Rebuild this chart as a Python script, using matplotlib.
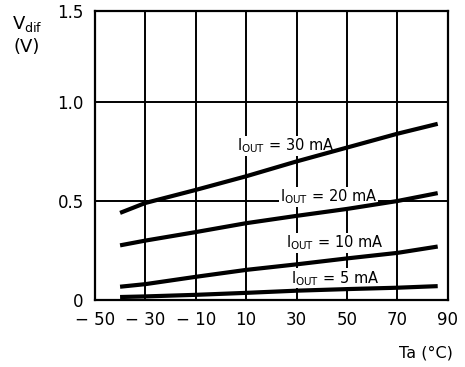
import numpy as np
import matplotlib
matplotlib.use("Agg")
import matplotlib.pyplot as plt

# values
ta = [-40, -30, -10, 10, 30, 50, 70, 86]
vdif_30 = [0.44, 0.49, 0.556, 0.625, 0.70, 0.77, 0.84, 0.89]
vdif_20 = [0.276, 0.30, 0.343, 0.388, 0.425, 0.46, 0.50, 0.54]
vdif_10 = [0.067, 0.08, 0.117, 0.152, 0.18, 0.21, 0.238, 0.27]
vdif_5 = [0.015, 0.018, 0.026, 0.036, 0.047, 0.055, 0.062, 0.07]

curves = [vdif_30, vdif_20, vdif_10, vdif_5]
labels = ["30 mA", "20 mA", "10 mA", "5 mA"]
label_pos = [(6.5, 0.78), (23.5, 0.52), (26, 0.29), (27.8, 0.11)]

xticks = [-50, -30, -10, 10, 30, 50, 70, 90]
xticklabels = ["\u2212 50", "\u2212 30", "\u2212 10", "10", "30", "50", "70", "90"]
yticks = [0, 0.5, 1.0, 1.46]
yticklabels = ["0", "0.5", "1.0", "1.5"]

plt.rcParams["font.family"] = ["DejaVu Sans"]

fig = plt.figure(figsize=(4.65, 3.67), dpi=100)
ax = fig.add_axes([0.204, 0.1826, 0.759, 0.7874])

ax.set_xlim(-50, 90)
ax.set_ylim(0, 1.46)
ax.set_xticks(xticks)
ax.set_xticklabels(xticklabels)
ax.set_yticks(yticks)
ax.set_yticklabels(yticklabels)
ax.tick_params(length=0, labelsize=12, pad=8)
ax.grid(True, color="black", linewidth=1.4, zorder=1)
ax.set_axisbelow(True)
for s in ax.spines.values():
    s.set_linewidth(1.6)

for v in curves:
    ax.plot(ta, v, color="black", linewidth=3, solid_capstyle="butt", zorder=4)

for lab, (lx, ly) in zip(labels, label_pos):
    ax.text(lx, ly, "I$_{\\mathrm{OUT}}$ = " + lab, fontsize=10.5, ha="left", va="center",
            bbox=dict(facecolor="white", edgecolor="none", pad=0.5), zorder=3)

fig.text(27 / 465, 1 - 24 / 367, "V$_{\\mathrm{dif}}$", fontsize=13, ha="center", va="center")
fig.text(27 / 465, 1 - 47 / 367, "(V)", fontsize=13, ha="center", va="center")
fig.text(453 / 465, 1 - 353 / 367, "Ta (\u00b0C)", fontsize=11.5, ha="right", va="center")

fig.savefig("out.png", dpi=100)
